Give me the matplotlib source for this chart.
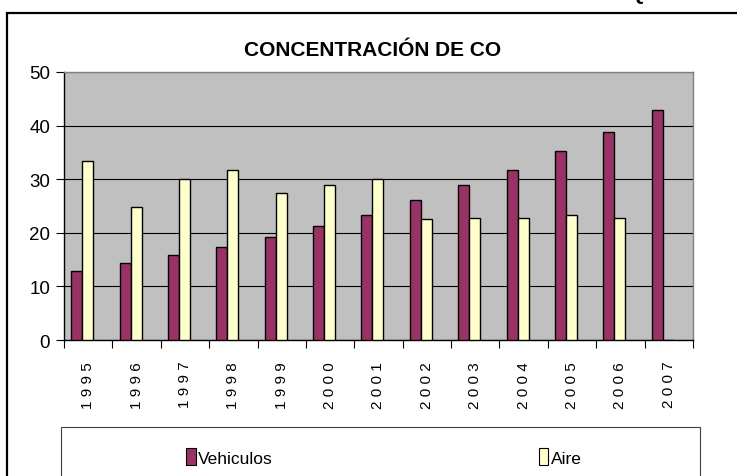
import numpy as np
import matplotlib
matplotlib.use('Agg')
import matplotlib.pyplot as plt
from matplotlib.patches import Rectangle, Patch

plt.rcParams['font.family'] = ['Liberation Sans', 'DejaVu Sans']

years = [1995, 1996, 1997, 1998, 1999, 2000, 2001, 2002, 2003, 2004, 2005, 2006, 2007]
vehiculos = [12.8, 14.4, 15.9, 17.4, 19.2, 21.3, 23.4, 26.2, 28.9, 31.8, 35.2, 38.8, 43.0]
aire = [33.4, 24.9, 30.1, 31.8, 27.4, 28.9, 30.1, 22.5, 22.8, 22.8, 23.4, 22.8, 0]
series_names = ['Vehiculos', 'Aire']
colors = ['#993366', '#FFFFCC']

W, H = 737, 477
fig = plt.figure(figsize=(W / 100, H / 100), dpi=100)

# outer chart frame (cut off on right and bottom)
fig.patches.append(Rectangle((7 / W, -0.05), 1.1, (H - 14) / H + 0.05,
                             transform=fig.transFigure, fill=False,
                             edgecolor='black', linewidth=1.6, zorder=0))

# caption above the frame, mostly cropped in the original
fig.text(460 / W, 1 + 5 / H, 'Ilustración 10: Concentración de CO en Quito',
         ha='center', va='center', fontsize=15, fontweight='bold',
         style='italic')

ax = fig.add_axes([64 / W, (H - 341) / H, 629 / W, 268 / H])
ax.set_facecolor('#C0C0C0')

x = np.arange(len(years))
bw = 0.227
ax.bar(x - 0.238, vehiculos, bw, color=colors[0], edgecolor='black',
       linewidth=1.0, zorder=3)
ax.bar(x - 0.011, aire, bw, color=colors[1], edgecolor='black',
       linewidth=1.0, zorder=3)

ax.set_xlim(-0.5, len(years) - 0.5)
ax.set_ylim(0, 50)
ax.set_yticks(range(0, 51, 10))
ax.set_yticklabels([str(v) for v in range(0, 51, 10)], fontsize=13.5)
ax.yaxis.grid(True, color='black', linewidth=0.8)
ax.set_axisbelow(True)

ax.set_xticks(x)
ax.set_xticklabels([' '.join(str(y)) for y in years], rotation=90, fontsize=11)
ax.set_xticks(np.arange(-0.5, len(years), 1), minor=True)
ax.tick_params(axis='x', which='major', length=0, pad=15)
ax.tick_params(axis='x', which='minor', length=6, width=0.8, direction='out')
ax.tick_params(axis='y', length=6, width=0.8, direction='out', pad=4)

ax.spines['top'].set_color('#808080')
ax.spines['right'].set_color('#808080')
ax.spines['left'].set_color('black')
ax.spines['bottom'].set_color('black')
for s in ax.spines.values():
    s.set_linewidth(1.0)

fig.text(373 / W, 1 - 51 / H, 'CONCENTRACIÓN DE CO', ha='center', va='center',
         fontsize=15, fontweight='bold')

# legend box
fig.patches.append(Rectangle((61 / W, -0.05), 639 / W, (H - 428) / H + 0.05,
                             transform=fig.transFigure, fill=True,
                             facecolor='white', edgecolor='#404040',
                             linewidth=0.8, zorder=1))
handles = [Patch(facecolor=c, edgecolor='black', linewidth=0.8) for c in colors]
fig.legend(handles, series_names, loc='center left',
           bbox_to_anchor=(186 / W, 1 - 458 / H), ncol=2, frameon=False,
           fontsize=12.5, handlelength=0.55, handleheight=1.1, handletextpad=0.15,
           columnspacing=15.3, borderaxespad=0, borderpad=0)

fig.savefig('out.png', dpi=100)
